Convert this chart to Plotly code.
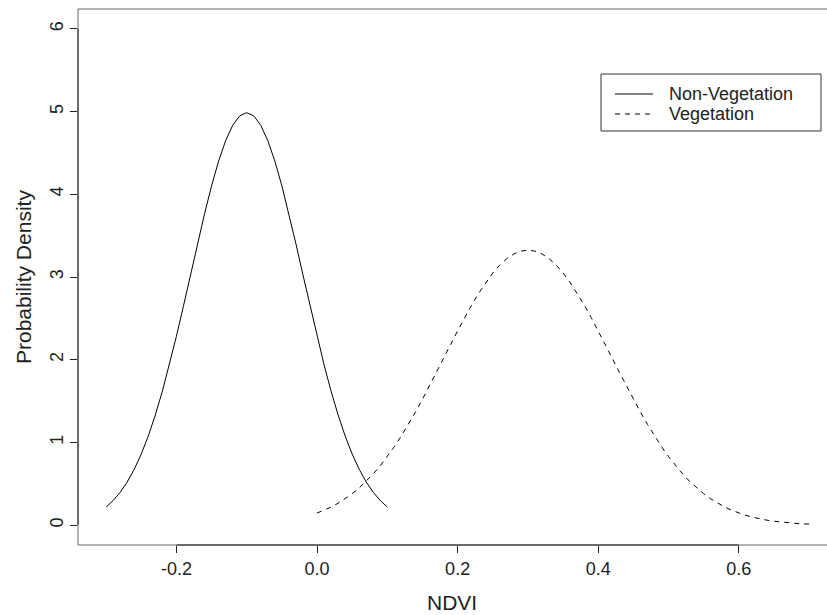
import plotly.graph_objects as go

# ---- data ----
nonveg_x = [-0.30, -0.29, -0.28, -0.27, -0.26, -0.25, -0.24, -0.23, -0.22, -0.21,
            -0.20, -0.19, -0.18, -0.17, -0.16, -0.15, -0.14, -0.13, -0.12, -0.11,
            -0.10, -0.09, -0.08, -0.07, -0.06, -0.05, -0.04, -0.03, -0.02, -0.01,
            0.00, 0.01, 0.02, 0.03, 0.04, 0.05, 0.06, 0.07, 0.08, 0.09, 0.10]
nonveg_y = [0.2191, 0.2971, 0.3967, 0.5215, 0.6749, 0.8598, 1.0785, 1.3318, 1.6190, 1.9377,
            2.2831, 2.6485, 3.0246, 3.4007, 3.7642, 4.1020, 4.4008, 4.6482, 4.8334, 4.9480,
            4.9868, 4.9480, 4.8334, 4.6482, 4.4008, 4.1020, 3.7642, 3.4007, 3.0246, 2.6485,
            2.2831, 1.9377, 1.6190, 1.3318, 1.0785, 0.8598, 0.6749, 0.5215, 0.3967, 0.2971, 0.2191]

veg_x = [0.00, 0.01, 0.02, 0.03, 0.04, 0.05, 0.06, 0.07, 0.08, 0.09,
         0.10, 0.11, 0.12, 0.13, 0.14, 0.15, 0.16, 0.17, 0.18, 0.19,
         0.20, 0.21, 0.22, 0.23, 0.24, 0.25, 0.26, 0.27, 0.28, 0.29,
         0.30, 0.31, 0.32, 0.33, 0.34, 0.35, 0.36, 0.37, 0.38, 0.39,
         0.40, 0.41, 0.42, 0.43, 0.44, 0.45, 0.46, 0.47, 0.48, 0.49,
         0.50, 0.51, 0.52, 0.53, 0.54, 0.55, 0.56, 0.57, 0.58, 0.59,
         0.60, 0.61, 0.62, 0.63, 0.64, 0.65, 0.66, 0.67, 0.68, 0.69, 0.70]
veg_y = [0.1461, 0.1793, 0.2185, 0.2645, 0.3179, 0.3795, 0.4499, 0.5297, 0.6192, 0.7190,
         0.8290, 0.9491, 1.0793, 1.2189, 1.3668, 1.5221, 1.6833, 1.8488, 2.0164, 2.1841,
         2.3493, 2.5095, 2.6621, 2.8044, 2.9339, 3.0481, 3.1449, 3.2222, 3.2787, 3.3130,
         3.3245, 3.3130, 3.2787, 3.2222, 3.1449, 3.0481, 2.9339, 2.8044, 2.6621, 2.5095,
         2.3493, 2.1841, 2.0164, 1.8488, 1.6833, 1.5221, 1.3668, 1.2189, 1.0793, 0.9491,
         0.8290, 0.7190, 0.6192, 0.5297, 0.4499, 0.3795, 0.3179, 0.2645, 0.2185, 0.1793,
         0.1461, 0.1182, 0.0950, 0.0758, 0.0601, 0.0473, 0.0369, 0.0287, 0.0221, 0.0169, 0.0129]

series_names = ["Non-Vegetation", "Vegetation"]
series_dash = ["solid", "5px,5px"]

x_ticks = [-0.2, 0.0, 0.2, 0.4, 0.6]
x_tick_labels = ["-0.2", "0.0", "0.2", "0.4", "0.6"]
y_ticks = [0, 1, 2, 3, 4, 5, 6]
y_tick_labels = ["0", "1", "2", "3", "4", "5", "6"]

FONT = "Liberation Sans, Arial, sans-serif"
INK = "#222"

fig = go.Figure()
fig.add_trace(go.Scatter(x=nonveg_x, y=nonveg_y, mode="lines", name=series_names[0],
                         line=dict(color="black", width=1, dash=series_dash[0])))
fig.add_trace(go.Scatter(x=veg_x, y=veg_y, mode="lines", name=series_names[1],
                         line=dict(color="black", width=1, dash=series_dash[1])))

fig.update_layout(
    width=827, height=615,
    margin=dict(l=78, r=0, t=9, b=70),
    paper_bgcolor="white", plot_bgcolor="white",
    font=dict(family=FONT, color=INK, size=18),
    showlegend=False,
    xaxis=dict(range=[-0.34, 0.7254], showgrid=False, zeroline=False, showline=False,
               tickmode="array", tickvals=x_ticks, ticktext=x_tick_labels,
               ticks="outside", ticklen=7, tickcolor=INK, tickwidth=1,
               tickfont=dict(size=18, family=FONT, color=INK)),
    yaxis=dict(range=[-0.24, 6.24], showgrid=False, zeroline=False, showline=False,
               tickmode="array", tickvals=y_ticks, ticktext=y_tick_labels,
               ticks="outside", ticklen=7, tickcolor=INK, tickwidth=1, tickangle=-90,
               tickfont=dict(size=18, family=FONT, color=INK)),
)

# plot box (left, top, bottom; the right side lies outside the picture)
box = dict(color="#666", width=1)
fig.add_shape(type="line", xref="paper", yref="paper", x0=0, x1=0, y0=0, y1=1, line=box)
fig.add_shape(type="line", xref="paper", yref="paper", x0=0, x1=1, y0=1, y1=1, line=box)
fig.add_shape(type="line", xref="paper", yref="paper", x0=0, x1=1, y0=0, y1=0, line=box)
# axis lines spanning the tick range
axl = dict(color=INK, width=1)
fig.add_shape(type="line", xref="x", yref="paper", x0=x_ticks[0], x1=x_ticks[-1], y0=0, y1=0, line=axl)
fig.add_shape(type="line", xref="paper", yref="y", x0=0, x1=0, y0=y_ticks[0], y1=y_ticks[-1], line=axl)

# legend (drawn manually, R-style)
fig.add_shape(type="rect", xref="paper", yref="paper", x0=0.6983, x1=0.9920, y0=0.7724, y1=0.8787,
              line=dict(color="#333", width=1), fillcolor="white")
for i, (nm, ds) in enumerate(zip(series_names, series_dash)):
    yy = [0.8414, 0.8041][i]
    fig.add_shape(type="line", xref="paper", yref="paper", x0=0.7170, x1=0.7677, y0=yy, y1=yy,
                  line=dict(color="black", width=1, dash=ds))
    fig.add_annotation(text=nm, xref="paper", yref="paper", x=0.7864, y=yy,
                       xanchor="left", yanchor="middle", showarrow=False,
                       font=dict(size=18, family=FONT, color=INK))

fig.add_annotation(text="NDVI", xref="paper", yref="paper", x=0.4993, y=-0.1306,
                   xanchor="center", yanchor="bottom", showarrow=False, borderpad=0,
                   font=dict(size=21, family=FONT, color=INK))
fig.add_annotation(text="Probability Density", xref="paper", yref="paper", x=-0.0734, y=0.5,
                   xanchor="center", yanchor="middle", textangle=-90, showarrow=False,
                   font=dict(size=21, family=FONT, color=INK))

fig.write_html("out.html")
